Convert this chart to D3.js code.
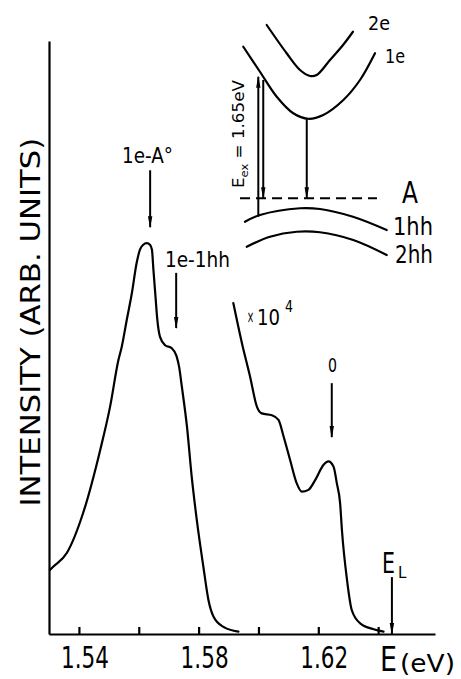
<!DOCTYPE html>
<html>
<head>
<meta charset="UTF-8">
<title>Spectre de photoluminescence</title>
<script src="https://cdn.jsdelivr.net/npm/d3@7"></script>
<style>
body { margin: 0; background: #fff; }
svg { display: block; }
.curve, .band {
  fill: none;
  stroke: #000;
  stroke-width: 2.2;
  stroke-linejoin: round;
  stroke-linecap: round;
}
.axis path, .axis line { stroke: #000; stroke-width: 2.2; }
.arrow { stroke: #000; stroke-width: 2; }
.level { stroke: #000; stroke-width: 2; stroke-dasharray: 10 6; }
text { font-family: "DejaVu Sans", sans-serif; fill: #000; }
</style>
</head>
<body>
<svg id="chart" width="461" height="679"></svg>
<script>
// spectrum: energy (eV) and intensity (arb. units, 0-100)
var mainE = [1.5303, 1.5313, 1.5360, 1.5414, 1.5471, 1.5504, 1.5532, 1.5543, 1.5560, 1.5577,
             1.5593, 1.5604, 1.5614, 1.5627, 1.5638, 1.5644, 1.5649, 1.5655, 1.5662, 1.5671,
             1.5688, 1.5710, 1.5726, 1.5735, 1.5744, 1.5761, 1.5777, 1.5794, 1.5816, 1.5833,
             1.5850, 1.5883, 1.5933];
var mainI = [10.8, 11.3, 13.7, 20.4, 31.0, 38.3, 46.2, 48.4, 53.0, 57.5,
             62.6, 64.8, 65.6, 65.9, 65.6, 64.8, 61.4, 57.5, 53.0, 50.1,
             48.7, 48.2, 46.9, 45.0, 41.7, 35.0, 26.5, 19.2, 11.3, 5.7,
             2.9, 1.2, 0.4];
// x10^4 part
var highE = [1.5916, 1.5945, 1.5972, 1.5995, 1.6011, 1.6045, 1.6067, 1.6084, 1.6106, 1.6128,
             1.6145, 1.6167, 1.6190, 1.6217, 1.6234, 1.6251, 1.6262, 1.6273, 1.6279, 1.6296,
             1.6312, 1.6340, 1.6385, 1.6418];
var highI = [55.8, 49.0, 43.4, 38.3, 37.2, 36.9, 36.1, 33.3, 29.3, 25.4,
             24.0, 24.3, 26.0, 28.5, 29.1, 28.2, 25.4, 22.0, 17.5, 9.1,
             4.0, 1.8, 0.8, 0.4];

var tickValues = [1.54, 1.56, 1.58, 1.60, 1.62, 1.64];
var tickLabels = ["1.54", "1.58", "1.62"];
var tickLabelValues = [1.54, 1.58, 1.62];

// peak markers: energy, arrow from / to (intensity)
var markE = [1.5638, 1.5725, 1.6245, 1.6446];
var markFrom = [78.2, 60.9, 42.3, 9.6];
var markTo = [68.6, 51.6, 33.2, 0];

// inset band diagram, k (0-100) and energy (0-100)
var k2e = [17.8, 31.1, 40, 46.7, 51.1, 60, 68.7, 75.3];
var e2e = [94, 82.7, 76, 73.6, 74, 80, 86, 91.3];
var k1e = [2.2, 13.3, 24.5, 35.5, 45.5, 55.5, 68.9, 80, 90];
var e1e = [85.3, 75.3, 65.3, 58.7, 56.5, 58, 64, 72, 82.7];
var k1hh = [3.3, 13.3, 40, 53.3, 75.3, 97.8];
var e1hh = [15.3, 18, 20.7, 20.4, 17.3, 12];
var k2hh = [4.5, 20, 37.8, 53.3, 75.5, 97.8];
var e2hh = [5.3, 9.3, 11.3, 11.1, 8, 2];
var levelA = 24.7;
var transK = [12.2, 15.5, 44.5];
var transFrom = [17.3, 72, 56.8];
var transTo = [73.3, 24.7, 24.7];

var svg = d3.select("#chart");

var x = d3.scaleLinear().domain([1.53, 1.659]).range([49, 435]);
var y = d3.scaleLinear().domain([0, 100]).range([634, 41]);
var kx = d3.scaleLinear().domain([0, 100]).range([240, 390]);
var ey = d3.scaleLinear().domain([0, 100]).range([260, 10]);

var defs = svg.append("defs");
defs.append("marker")
    .attr("id", "head")
    .attr("markerUnits", "userSpaceOnUse")
    .attr("markerWidth", 12).attr("markerHeight", 6)
    .attr("refX", 11).attr("refY", 3)
    .attr("orient", "auto")
  .append("path")
    .attr("d", "M0,0.8 L12,3 L0,5.2 Z");

// axes
svg.append("g")
    .attr("class", "axis")
    .attr("transform", "translate(0," + y(0) + ")")
    .call(d3.axisTop(x).tickValues(tickValues).tickSize(7).tickSizeOuter(0).tickFormat(""));
svg.append("g")
    .attr("class", "axis")
    .attr("transform", "translate(" + x(1.53) + ",0)")
    .call(d3.axisLeft(y).tickValues([]).tickSizeOuter(0));

// curves
var line = d3.line().curve(d3.curveMonotoneX);
svg.append("path").attr("class", "curve")
    .attr("d", line(mainE.map(function(e, i) { return [x(e), y(mainI[i])]; })));
svg.append("path").attr("class", "curve")
    .attr("d", line(highE.map(function(e, i) { return [x(e), y(highI[i])]; })));

markE.forEach(function(e, i) {
  svg.append("line").attr("class", "arrow")
      .attr("x1", x(e)).attr("x2", x(e))
      .attr("y1", y(markFrom[i])).attr("y2", y(markTo[i]))
      .attr("marker-end", "url(#head)");
});

// inset
var bline = d3.line().curve(d3.curveCatmullRom);
[[k2e, e2e], [k1e, e1e], [k1hh, e1hh], [k2hh, e2hh]].forEach(function(b) {
  svg.append("path").attr("class", "band")
      .attr("d", bline(b[0].map(function(k, i) { return [kx(k), ey(b[1][i])]; })));
});
svg.append("line").attr("class", "level")
    .attr("x1", kx(0)).attr("x2", kx(91.3))
    .attr("y1", ey(levelA)).attr("y2", ey(levelA));
transK.forEach(function(k, i) {
  svg.append("line").attr("class", "arrow")
      .attr("stroke-width", 1.6)
      .attr("x1", kx(k)).attr("x2", kx(k))
      .attr("y1", ey(transFrom[i])).attr("y2", ey(transTo[i]))
      .attr("marker-end", "url(#head)");
});

// text helper: squeeze a label into the box
function label(parts, box) {
  var g = svg.append("g"), t = g.append("text"), cur = 0;
  parts.forEach(function(p) {
    var s = p[2] || 0;
    t.append("tspan").attr("font-size", p[1]).attr("dy", s - cur).text(p[0]);
    cur = s;
  });
  var bb = t.node().getBBox();
  if (box.rot) {
    var sr = box.len / bb.width;
    g.attr("transform", "translate(" + box.base + "," + box.yc + ") rotate(-90) scale(" + sr + ",1) translate(" + (-bb.x - bb.width / 2) + ",0)");
  } else {
    var sx = (box.x1 - box.x0) / bb.width;
    g.attr("transform", "translate(" + box.x0 + "," + box.base + ") scale(" + sx + ",1) translate(" + (-bb.x) + ",0)");
  }
}

tickLabels.forEach(function(s, i) {
  var cx = x(tickLabelValues[i]) + 6;
  label([[s, 30]], {x0: cx - 24, x1: cx + 24, base: 668});
});
label([["E", 33]], {x0: 380, x1: 397, base: 671});
label([["(eV)", 24]], {x0: 400, x1: 455, base: 672});
label([["INTENSITY (ARB. UNITS)", 27]], {rot: true, base: 40, yc: 322, len: 369});

label([["1e-A°", 22]], {x0: 122, x1: 173, base: 163});
label([["1e-1hh", 22]], {x0: 165, x1: 230, base: 267});
label([["×", 17]], {x0: 247, x1: 254, base: 323});
label([["10", 22]], {x0: 257, x1: 280, base: 325});
label([["4", 15]], {x0: 285, x1: 293, base: 312});
label([["0", 20]], {x0: 328, x1: 337, base: 372});
label([["E", 28]], {x0: 382, x1: 395, base: 573});
label([["L", 15]], {x0: 398, x1: 407, base: 578});

label([["2e", 20]], {x0: 368, x1: 390, base: 30});
label([["1e", 20]], {x0: 385, x1: 405, base: 63});
label([["A", 31]], {x0: 402, x1: 418, base: 203});
label([["1hh", 24]], {x0: 393, x1: 433, base: 235});
label([["2hh", 24]], {x0: 395, x1: 433, base: 263});
label([["E", 16], ["ex", 11, 4], [" = 1.65eV", 16, 0]], {rot: true, base: 244, yc: 134, len: 108});
</script>
</body>
</html>
